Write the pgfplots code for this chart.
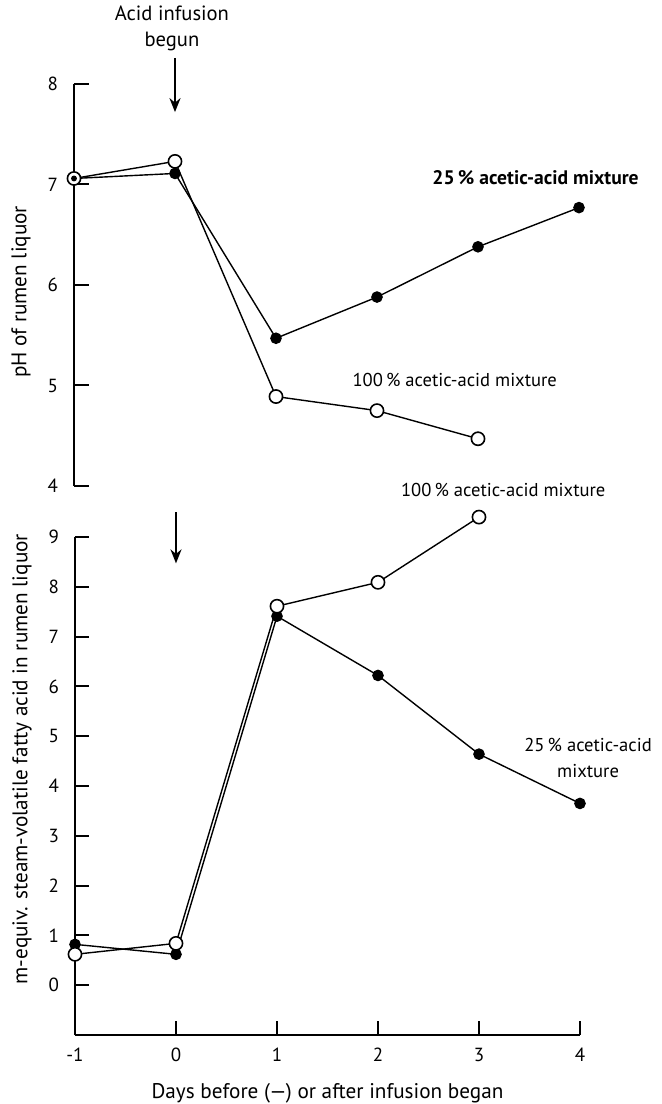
\documentclass[border=0pt]{standalone}
\usepackage{pgfplots}
\pgfplotsset{compat=1.18}
\usepackage{fontspec}
\setmainfont{PT Sans}
\usetikzlibrary{arrows.meta}
\pgfplotsset{
  common/.style={
    scale only axis, width=252.5pt,
    xmin=-1, xmax=4,
    clip=false,
    tick style={line width=1pt, black},
    /pgf/number format/assume math mode=true,
    ticklabel style={font=\fontsize{9.5}{10}\selectfont},
    label style={font=\fontsize{10.6}{12}\selectfont},
    every axis plot/.append style={line width=0.7pt, black},
  },
  filled/.style={mark=*, mark size=2.6pt, mark options={fill=black, line width=0.6pt}},
  open/.style={mark=*, mark size=3.3pt, mark options={fill=white, line width=0.8pt}},
}
\begin{document}
\begin{tikzpicture}
\useasboundingbox (-37.5pt,-34.5pt) rectangle (293pt,517.5pt);
% ---------- top panel: pH ----------
\begin{axis}[common,
  at={(-0.5pt,274.5pt)}, anchor=south west,
  height=201pt,
  ymin=4, ymax=8,
  hide x axis,
  axis y line*=left, ytick pos=left,
  axis line style={-, line width=1pt},
  tick align=inside, major tick length=7.5pt,
  yticklabel style={xshift=-4.5pt},
  ytick={4,5,6,7,8},
  ylabel={pH of rumen liquor},
  ylabel style={at={(axis description cs:0,0.483)}, anchor=center, yshift=26.5pt},
]
\addplot[filled] coordinates {(-1,7.06) (0,7.11) (1,5.47) (2,5.88) (3,6.38) (4,6.77)};
\addplot[open] coordinates {(-1,7.06) (0,7.23) (1,4.89) (2,4.75) (3,4.47)};
\addplot[only marks, mark=*, mark size=1.1pt, mark options={fill=black}] coordinates {(-1,7.06)};
\draw[line width=1pt, -{Stealth[length=7pt, width=5.5pt]}] (axis cs:0,8.26) -- (axis cs:0,7.72);
\node[align=center, font=\fontsize{10.3}{13}\selectfont] at (axis cs:-0.03,8.55) {Acid infusion\\begun};
\node[font=\fontsize{9.8}{11}\selectfont\bfseries] at (axis cs:3.57,7.07) {25\,\% acetic-acid mixture};
\node[font=\fontsize{9.3}{11}\selectfont] at (axis cs:2.77,5.05) {100\,\% acetic-acid mixture};
\end{axis}
% ---------- bottom panel: VFA ----------
\begin{axis}[common,
  at={(0pt,0pt)}, anchor=south west,
  height=249pt,
  ymin=-1, ymax=9,
  axis x line*=bottom, axis y line*=left,
  xtick pos=left, ytick pos=left,
  axis line style={-, line width=1pt},
  tick align=inside, major tick length=7pt,
  yticklabel style={xshift=-4.5pt},
  xtick={-1,0,1,2,3,4},
  ytick={0,1,2,3,4,5,6,7,8,9},
  xticklabel style={yshift=-3pt},
  ylabel={m-equiv. steam-volatile fatty acid in rumen liquor},
  ylabel style={at={(axis description cs:0,0.554)}, anchor=center, yshift=26.5pt},
  xlabel={Days before (---) or after infusion began},
  xlabel style={at={(axis description cs:0.5,0)}, anchor=center, yshift=-29pt},
]
\addplot[filled] coordinates {(-1,0.82) (0,0.62) (1,7.41) (2,6.22) (3,4.64) (4,3.65)};
\addplot[open] coordinates {(-1,0.62) (0,0.84) (1,7.61) (2,8.09) (3,9.40)};
\draw[line width=1pt, -{Stealth[length=7pt, width=5.5pt]}] (axis cs:0,9.50) -- (axis cs:0,8.47);
\node[font=\fontsize{9.3}{11}\selectfont] at (axis cs:3.24,9.94) {100\,\% acetic-acid mixture};
\node[align=center, font=\fontsize{9.3}{13}\selectfont] at (axis cs:4.08,4.56) {25\,\% acetic-acid\\mixture};
\end{axis}
\end{tikzpicture}
\end{document}
